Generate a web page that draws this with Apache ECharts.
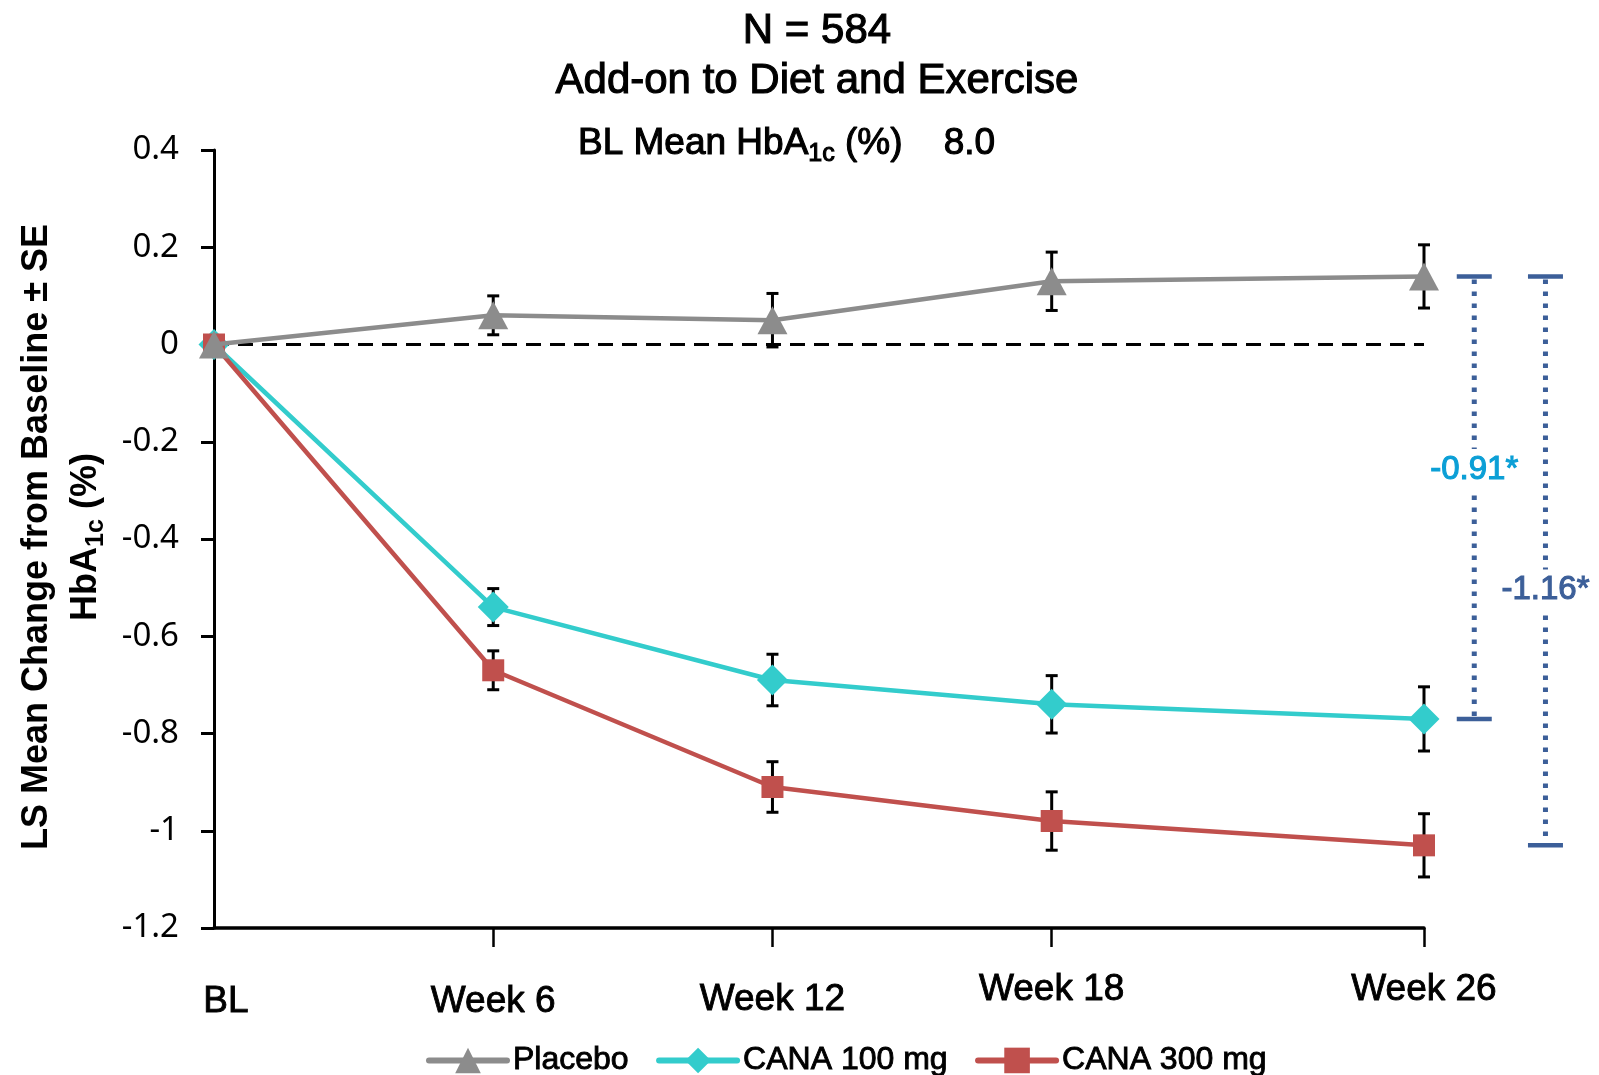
<!DOCTYPE html>
<html><head><meta charset="utf-8">
<script src="https://cdn.jsdelivr.net/npm/echarts@6/dist/echarts.min.js"></script>
<style>html,body{margin:0;padding:0;background:#fff}#c{width:1599px;height:1075px}</style>
</head><body><div id="c"></div>
<script>
// ---- data ----
const weeks = [0, 6, 12, 18, 26];
const weekLabels = ['BL', 'Week 6', 'Week 12', 'Week 18', 'Week 26'];
const seriesNames = ['Placebo', 'CANA 100 mg', 'CANA 300 mg'];
const placebo   = [0, 0.06, 0.05, 0.13, 0.14];
const placeboSE = [0, 0.040, 0.055, 0.060, 0.065];
const cana100   = [0, -0.54, -0.69, -0.74, -0.77];
const cana100SE = [0, 0.038, 0.053, 0.059, 0.066];
const cana300   = [0, -0.67, -0.91, -0.98, -1.03];
const cana300SE = [0, 0.040, 0.052, 0.060, 0.065];
const diffLabels = ['-0.91*', '-1.16*'];
const titleLines = ['N = 584', 'Add-on to Diet and Exercise'];
const blMean = '8.0';

const ARIAL = '"Liberation Sans", Arial, sans-serif';
const colors = { placebo: '#8C8C8C', c100: '#33CCCC', c300: '#C0504D' };

const pts = (vals) => weeks.map((w, i) => [w, vals[i]]);
const errData = [];
[[placebo, placeboSE], [cana100, cana100SE], [cana300, cana300SE]].forEach(([v, s]) => {
  weeks.forEach((w, i) => errData.push([w, v[i], s[i]]));
});
const bracketData = [
  [27.08, placebo[4], cana100[4], -0.257],
  [28.61, placebo[4], cana300[4], -0.505]
];
const bracketLabelColors = ['#0B9FD6', '#3C5F99'];

const chart = echarts.init(document.getElementById('c'), null, { renderer: 'canvas' });

const lab = (pad) => ({ fontSize: 37, fontFamily: ARIAL, color: '#000', textBorderColor: '#000', textBorderWidth: 0.9, padding: pad });
const labelRich = {
  l0: lab([12, 0, 0, 24]),
  l1: lab([12, 0, 0, 0]),
  l2: lab([10, 0, 0, 0]),
  l3: lab([0, 0, 0, 0]),
  l4: lab([0, 0, 0, 0])
};

const tStyle = (size, bold) => ({ fontSize: size, fontFamily: ARIAL, fontWeight: bold ? 'bold' : 'normal', fill: '#000', color: '#000', stroke: '#000', lineWidth: bold ? 0 : 1.1 });

const option = {
  backgroundColor: '#fff',
  animation: false,
  grid: { left: 214, right: 175, top: 150, bottom: 147 },
  xAxis: {
    type: 'value', min: 0, max: 26,
    axisLine: { onZero: false, lineStyle: { color: '#000', width: 3.5 } },
    axisTick: { show: true, length: 19, lineStyle: { color: '#000', width: 2.5 }, customValues: weeks.slice(1) },
    axisLabel: {
      customValues: weeks, margin: 43, showMinLabel: true, showMaxLabel: true,
      formatter: (v) => { const i = weeks.indexOf(v); return i < 0 ? '' : '{l' + i + '|' + weekLabels[i] + '}'; },
      rich: labelRich
    },
    splitLine: { show: false }
  },
  yAxis: {
    type: 'value', min: -1.2, max: 0.4, interval: 0.2,
    axisLine: { show: true, lineStyle: { color: '#000', width: 3 } },
    axisTick: { show: true, length: 13, lineStyle: { color: '#000', width: 3 } },
    axisLabel: {
      margin: 35, color: '#000', fontSize: 33, fontFamily: '"Noto Sans", "Open Sans", sans-serif',
      formatter: (v) => String(+v.toFixed(1))
    },
    splitLine: { show: false }
  },
  legend: {
    data: seriesNames, left: 426, top: 1044, padding: 0, itemWidth: 78, itemHeight: 32, itemGap: 27,
    textStyle: { fontSize: 32, fontFamily: ARIAL, color: '#000', textBorderColor: '#000', textBorderWidth: 0.9, padding: [0, 0, 0, 1] },
    lineStyle: { width: 6, cap: 'round' }
  },
  graphic: [
    { type: 'text', x: 817, y: 31, style: Object.assign(tStyle(42), { text: titleLines[0], align: 'center', verticalAlign: 'middle' }) },
    { type: 'text', x: 817, y: 81, style: Object.assign(tStyle(42), { text: titleLines[1], align: 'center', verticalAlign: 'middle' }) },
    { type: 'text', x: 578, y: 140, style: {
        text: '{a|BL Mean HbA}{s|1c}{a| (%)    ' + blMean + '}',
        align: 'left', verticalAlign: 'middle',
        rich: {
          a: Object.assign(tStyle(37), { lineHeight: 44, verticalAlign: 'bottom' }),
          s: Object.assign(tStyle(25), { lineHeight: 16, height: 16, verticalAlign: 'bottom' })
        }
    } },
    { type: 'text', x: 55, y: 537, rotation: Math.PI / 2, style: {
        text: '{a|LS Mean Change from Baseline ± SE}\n{a|HbA}{s|1c}{a| (%)}',
        align: 'center', verticalAlign: 'middle',
        rich: {
          a: Object.assign(tStyle(36, true), { lineHeight: 49, verticalAlign: 'bottom' }),
          s: Object.assign(tStyle(25, true), { lineHeight: 16, height: 16, verticalAlign: 'bottom' })
        }
    } }
  ],
  series: [
    {
      type: 'custom', name: 'errbars', z: 1, silent: true,
      data: errData, encode: { x: 0, y: 1 },
      renderItem: (params, api) => {
        const x = api.value(0), y = api.value(1), se = api.value(2);
        if (!se) return null;
        const t = api.coord([x, y + se]), b = api.coord([x, y - se]);
        const w = 6;
        const st = { stroke: '#000', lineWidth: 3 };
        return { type: 'group', children: [
          { type: 'line', shape: { x1: t[0], y1: t[1], x2: b[0], y2: b[1] }, style: st },
          { type: 'line', shape: { x1: t[0] - w, y1: t[1], x2: t[0] + w, y2: t[1] }, style: st },
          { type: 'line', shape: { x1: b[0] - w, y1: b[1], x2: b[0] + w, y2: b[1] }, style: st }
        ] };
      }
    },
    {
      name: seriesNames[1], type: 'line', z: 3, data: pts(cana100),
      symbol: 'diamond', symbolSize: 31,
      lineStyle: { color: colors.c100, width: 4.5 }, itemStyle: { color: colors.c100 }
    },
    {
      name: seriesNames[2], type: 'line', z: 4, data: pts(cana300),
      symbol: 'rect', symbolSize: 22,
      lineStyle: { color: colors.c300, width: 4.5 }, itemStyle: { color: colors.c300 }
    },
    {
      name: seriesNames[0], type: 'line', z: 5, data: pts(placebo),
      symbol: 'triangle', symbolSize: [30, 28],
      lineStyle: { color: colors.placebo, width: 4.5 }, itemStyle: { color: colors.placebo },
      markLine: {
        silent: true, symbol: 'none', label: { show: false }, z: 2,
        lineStyle: { color: '#000', type: [15, 9], width: 3 },
        data: [[{ coord: [0, 0] }, { coord: [26, 0] }]]
      }
    },
    {
      type: 'custom', name: 'diffs', z: 6, silent: true, clip: false,
      data: bracketData, encode: { x: 0, y: 1 },
      renderItem: (params, api) => {
        const x = api.value(0), top = api.value(1), bot = api.value(2), ly = api.value(3);
        const t = api.coord([x, top]), b = api.coord([x, bot]), l = api.coord([x, ly]);
        const c = '#3C5F99', w = 17.5;
        const lc = bracketLabelColors[params.dataIndex];
        return { type: 'group', children: [
          { type: 'line', shape: { x1: t[0], y1: t[1] + 3, x2: b[0], y2: b[1] - 3 }, style: { stroke: c, lineWidth: 5, lineDash: [4.5, 7.5] } },
          { type: 'line', shape: { x1: t[0] - w, y1: t[1], x2: t[0] + w, y2: t[1] }, style: { stroke: c, lineWidth: 4.5 } },
          { type: 'line', shape: { x1: b[0] - w, y1: b[1], x2: b[0] + w, y2: b[1] }, style: { stroke: c, lineWidth: 4.5 } },
          { type: 'text', x: l[0], y: l[1], style: {
              text: diffLabels[params.dataIndex], fill: lc, stroke: lc, lineWidth: 1.1,
              fontSize: 33, fontFamily: ARIAL, align: 'center', verticalAlign: 'middle',
              backgroundColor: '#fff', padding: [4, 0, 4, 0]
          } }
        ] };
      }
    }
  ]
};
chart.setOption(option);
</script>
</body></html>
